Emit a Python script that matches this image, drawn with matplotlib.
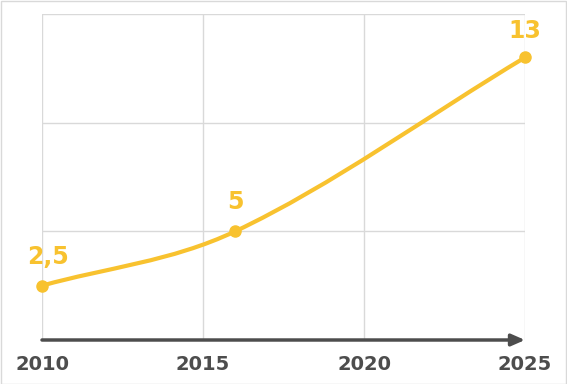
import matplotlib
matplotlib.use("Agg")
import matplotlib.pyplot as plt
from matplotlib.path import Path
from matplotlib.patches import PathPatch, Rectangle

# data
years = [2010, 2016, 2025]
values = [2.5, 5, 13]
labels = ["2,5", "5", "13"]
x_ticks = [2010, 2015, 2020, 2025]
y_grid = [5, 10, 15]

YELLOW = "#f8c22f"
DARK = "#4d4d4d"
GRID = "#d9d9d9"


def smooth_path(xs, ys):
    # cubic Hermite (Catmull-Rom style slopes) as Bezier segments
    n = len(xs)
    slopes = []
    for i in range(n):
        if i == 0:
            s = (ys[1] - ys[0]) / (xs[1] - xs[0])
        elif i == n - 1:
            s = (ys[-1] - ys[-2]) / (xs[-1] - xs[-2])
        else:
            s = (ys[i + 1] - ys[i - 1]) / (xs[i + 1] - xs[i - 1])
        slopes.append(s)
    verts = [(xs[0], ys[0])]
    codes = [Path.MOVETO]
    for i in range(n - 1):
        h = xs[i + 1] - xs[i]
        verts += [(xs[i] + h / 3, ys[i] + slopes[i] * h / 3),
                  (xs[i + 1] - h / 3, ys[i + 1] - slopes[i + 1] * h / 3),
                  (xs[i + 1], ys[i + 1])]
        codes += [Path.CURVE4] * 3
    return Path(verts, codes)


fig = plt.figure(figsize=(5.67, 3.84), dpi=100)
ax = fig.add_axes([42 / 567, 44 / 384, 483 / 567, 326 / 384])
ax.set_xlim(2010, 2025)
ax.set_ylim(0, 15)

for x in x_ticks:
    ax.axvline(x, color=GRID, lw=1, zorder=1)
for y in y_grid:
    ax.axhline(y, color=GRID, lw=1, zorder=1)

ax.add_patch(PathPatch(smooth_path(years, values), fill=False,
                       edgecolor=YELLOW, lw=3, zorder=3, capstyle="round"))
ax.plot(years, values, "o", color=YELLOW, ms=8, zorder=4, clip_on=False)

offsets = [(4, 21), (0, 21), (0, 19)]
for x, y, t, off in zip(years, values, labels, offsets):
    ax.annotate(t, (x, y), xytext=off, textcoords="offset points",
                ha="center", va="center", fontsize=17, fontweight="bold",
                color=YELLOW, zorder=5, annotation_clip=False)

# axis arrow
ax.annotate("", xy=(2025, 0), xytext=(2010, 0),
            arrowprops=dict(arrowstyle="-|>,head_length=0.8,head_width=0.35",
                            color=DARK, lw=2.5, shrinkA=0, shrinkB=0),
            annotation_clip=False, zorder=6)

for s in ax.spines.values():
    s.set_visible(False)
ax.set_xticks(x_ticks)
ax.set_xticklabels([str(x) for x in x_ticks])
ax.set_yticks([])
ax.tick_params(axis="x", length=0, pad=11, labelsize=14, labelcolor=DARK)
for lbl in ax.get_xticklabels():
    lbl.set_fontweight("bold")

fig.patches.append(Rectangle((0.5 / 567, 0.5 / 384), 1 - 1.5 / 567, 1 - 1.5 / 384,
                             transform=fig.transFigure, fill=False,
                             edgecolor=GRID, lw=1))

fig.savefig("out.png", dpi=100)
